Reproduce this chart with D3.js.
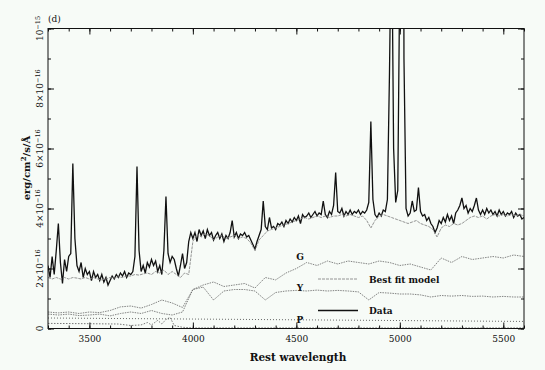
<!DOCTYPE html>
<html lang="en">
<head>
<meta charset="utf-8">
<title>Spectrum fit (d)</title>
<script src="https://d3js.org/d3.v7.min.js"></script>
<style type="text/css">
  body { margin: 0; background: #f7fbf7; }
  svg { display: block; }
  text { font-family: "DejaVu Serif", serif; fill: #111; }
  .tick text { font-size: 9px; }
</style>
</head>
<body>
<script type="text/javascript">
// wavelength grid start (Angstrom) and sampling of each series
var lamStart = 3300;
var dataStep = 10;
// observed spectrum, units of 1e-16 erg/cm2/s/A, 3300..5600 every 10 A
var dataFlux = [
  2.1, 1.7, 2.4, 1.8, 2.6, 3.5, 2.2, 1.5, 2.3, 1.9,      // 3300
  2.4, 2.5, 5.5, 3.0, 2.1, 1.9, 2.2, 1.7, 2.0, 1.8,      // 3400
  1.9, 1.6, 1.9, 1.7, 1.8, 1.6, 1.8, 1.55, 1.7, 1.45,    // 3500
  1.6, 1.75, 1.65, 1.8, 1.7, 1.85, 1.75, 1.9, 1.7, 1.85, // 3600
  1.8, 1.9, 2.4, 5.4, 2.6, 1.9, 2.1, 1.85, 2.2, 2.05,    // 3700
  2.3, 2.1, 2.25, 1.9, 2.1, 1.8, 2.6, 4.4, 2.5, 2.2,     // 3800
  2.4, 2.3, 2.0, 1.75, 2.1, 2.5, 2.0, 2.2, 2.9, 3.2,     // 3900
  3.0, 3.2, 2.9, 3.3, 3.1, 3.25, 3.0, 3.3, 3.1, 3.2,     // 4000
  2.95, 3.1, 3.2, 3.0, 3.15, 2.9, 3.1, 3.0, 3.2, 3.6,    // 4100
  3.05, 3.2, 3.0, 3.15, 3.1, 3.2, 3.05, 3.1, 2.95, 2.8,  // 4200
  2.65, 2.9, 3.1, 3.3, 4.25, 3.4, 3.3, 3.7, 3.35, 3.4,   // 4300
  3.3, 3.5, 3.45, 3.55, 3.4, 3.6, 3.5, 3.65, 3.55, 3.7,  // 4400
  3.6, 3.75, 3.5, 3.8, 3.7, 3.75, 3.85, 3.7, 3.8, 3.9,   // 4500
  3.75, 3.85, 3.8, 4.25, 3.8, 3.7, 3.9, 3.8, 4.1, 5.2,   // 4600
  3.9, 3.85, 4.0, 3.75, 3.9, 3.8, 3.95, 3.8, 3.9, 3.85,  // 4700
  3.95, 3.8, 3.9, 3.85, 3.95, 4.2, 6.9, 4.3, 3.8, 3.7,   // 4800
  3.85, 3.75, 3.95, 3.9, 4.3, 8.5, 14.0, 6.0, 4.2, 4.6,  // 4900
  12.0, 40.0, 9.0, 4.0, 3.75, 3.85, 4.25, 3.9, 3.95, 4.7,// 5000
  3.9, 3.75, 3.8, 3.6, 3.7, 3.5, 3.4, 3.2, 3.35, 3.6,    // 5100
  3.5, 3.7, 3.55, 3.8, 3.6, 3.75, 3.5, 3.85, 3.95, 4.1,  // 5200
  4.35, 4.0, 4.1, 3.85, 4.0, 3.9, 4.1, 4.35, 3.95, 3.8,  // 5300
  3.95, 3.8, 4.0, 3.85, 3.95, 3.8, 3.9, 3.75, 3.95, 3.8, // 5400
  3.9, 3.75, 3.85, 3.8, 3.9, 3.7, 3.85, 3.75, 3.8, 3.65, // 5500
  3.7
];
// best fit model, every 20 A
var modelStep = 20;
var modelFlux = [
  1.7, 1.65, 1.7, 1.65, 1.7, 1.65, 1.7, 1.68, 1.65, 1.7,
  1.65, 1.7, 1.65, 1.62, 1.65, 1.7, 1.68, 1.72, 1.7, 1.75,
  1.75, 1.8, 1.78, 1.82, 1.85, 1.8, 1.9, 1.85, 1.95, 1.8,
  1.9, 1.8, 1.7, 1.85, 1.8, 2.9, 3.15, 3.05, 3.15, 3.1,
  2.95, 3.05, 3.1, 3.0, 3.05, 3.1, 3.0, 3.05, 3.0, 2.85,
  2.6, 2.95, 3.1, 3.25, 3.3, 3.35, 3.4, 3.45, 3.5, 3.55,
  3.6, 3.65, 3.7, 3.65, 3.7, 3.75, 3.7, 3.75, 3.7, 3.75,
  3.75, 3.8, 3.75, 3.8, 3.75, 3.7, 3.75, 3.6, 3.35, 3.6,
  3.75, 3.8, 3.75, 3.7, 3.65, 3.6, 3.55, 3.5, 3.55, 3.6,
  3.5, 3.45, 3.4, 3.3, 3.05, 3.35, 3.45, 3.4, 3.5, 3.45,
  3.5, 3.6, 3.7, 3.75, 3.7, 3.75, 3.65, 3.75, 3.8, 3.75,
  3.8, 3.75, 3.8, 3.75, 3.8, 3.75
];
// stellar components, every 50 A
var compStep = 50;
var gFlux = [
  0.55, 0.52, 0.55, 0.5, 0.55, 0.53, 0.6, 0.72, 0.75, 0.68,
  0.8, 0.95, 0.85, 0.7, 1.3, 1.45, 1.55, 1.4, 1.45, 1.5,
  1.35, 1.7, 1.62, 1.85, 2.0, 2.2, 2.1, 2.25, 2.15, 2.25,
  2.2, 2.15, 2.25, 2.2, 2.1, 2.15, 2.05, 1.95, 2.35, 2.2,
  2.4, 2.3, 2.35, 2.4, 2.35, 2.45, 2.4
];
var yFlux = [
  0.48, 0.45, 0.48, 0.43, 0.45, 0.48, 0.42, 0.5, 0.55, 0.5,
  0.6, 0.5, 0.45, 0.55, 1.3, 1.38, 0.95, 1.25, 1.3, 1.3,
  1.25, 0.95, 1.2, 1.25, 1.27, 1.25, 1.28, 1.25, 1.27, 1.25,
  1.22, 0.95, 1.2, 1.18, 1.15, 1.15, 1.12, 1.05, 1.1, 1.08,
  1.1, 1.07, 1.08, 1.05, 1.07, 1.05, 1.05
];
// power law, every 100 A
var pStep = 100;
var pFlux = [0.35, 0.345, 0.34, 0.335, 0.33, 0.325, 0.32, 0.315, 0.31, 0.305,
  0.3, 0.295, 0.29, 0.285, 0.28, 0.275, 0.27, 0.265, 0.26, 0.255,
  0.25, 0.245, 0.24, 0.235];
// nebular continuum (unlabelled)
var nebLam  = [3300, 3500, 3640, 3700, 3750, 3780, 3800, 3830, 3850, 3870, 3890, 3910, 3950, 4000, 5600];
var nebFlux = [0.17, 0.16, 0.15, 0.1, 0.12, 0.2, 0.12, 0.27, 0.15, 0.3, 0.37, 0.1, 0.04, 0.02, 0.02];

var xTicks = [3500, 4000, 4500, 5000, 5500];
var yTicks = [0, 2, 4, 6, 8, 10];
var yTickBase = ["0", "2\u00d710", "4\u00d710", "6\u00d710", "8\u00d710", "10"];
var yTickExp  = ["", "\u221216", "\u221216", "\u221216", "\u221216", "\u221215"];

var w = 545, h = 370;
var mLeft = 48, mRight = 524, mTop = 28.5, mBottom = 328.5;

var svg = d3.select("body").append("svg")
    .attr("width", w).attr("height", h);

var x = d3.scaleLinear().domain([3300, 5600]).range([mLeft, mRight]);
var y = d3.scaleLinear().domain([0, 10]).range([mBottom, mTop]);

svg.append("defs").append("clipPath").attr("id", "plot")
  .append("rect").attr("x", mLeft).attr("y", mTop)
  .attr("width", mRight - mLeft).attr("height", mBottom - mTop);

function series(vals, step) {
  return vals.map(function(v, i) { return [lamStart + i * step, v]; });
}
var line = d3.line()
    .x(function(d) { return x(d[0]); })
    .y(function(d) { return y(d[1]); });

var g = svg.append("g").attr("clip-path", "url(#plot)");

// components
g.append("path").attr("d", line(nebLam.map(function(l, i) { return [l, nebFlux[i]]; })))
  .attr("fill", "none").attr("stroke", "#555").attr("stroke-width", 0.8)
  .attr("stroke-dasharray", "1.5,1.5");
g.append("path").attr("d", line(series(pFlux, pStep)))
  .attr("fill", "none").attr("stroke", "#444").attr("stroke-width", 0.8)
  .attr("stroke-dasharray", "1,2");
g.append("path").attr("d", line(series(yFlux, compStep)))
  .attr("fill", "none").attr("stroke", "#666").attr("stroke-width", 0.8)
  .attr("stroke-dasharray", "1.5,1");
g.append("path").attr("d", line(series(gFlux, compStep)))
  .attr("fill", "none").attr("stroke", "#666").attr("stroke-width", 0.8)
  .attr("stroke-dasharray", "1.5,1");
// data + model
g.append("path").attr("d", line(series(dataFlux, dataStep)))
  .attr("fill", "none").attr("stroke", "#111").attr("stroke-width", 1.3);
g.append("path").attr("d", line(series(modelFlux, modelStep)))
  .attr("fill", "none").attr("stroke", "#888").attr("stroke-width", 0.9)
  .attr("stroke-dasharray", "3,1");

// ticks, all pointing inward
var minorX = d3.range(3300, 5601, 100);
var minorY = d3.range(0, 10.01, 1);
svg.append("g").attr("transform", "translate(0," + mBottom + ")")
  .call(d3.axisBottom(x).tickValues(minorX).tickSize(-3).tickFormat(""));
svg.append("g").attr("transform", "translate(0," + mBottom + ")")
  .call(d3.axisBottom(x).tickValues(xTicks).tickSize(-6).tickPadding(7).tickFormat(d3.format("d")));
svg.append("g").attr("transform", "translate(0," + mTop + ")")
  .call(d3.axisTop(x).tickValues(minorX).tickSize(-3).tickFormat(""));
svg.append("g").attr("transform", "translate(0," + mTop + ")")
  .call(d3.axisTop(x).tickValues(xTicks).tickSize(-6).tickFormat(""));
svg.append("g").attr("transform", "translate(" + mLeft + ",0)")
  .call(d3.axisLeft(y).tickValues(minorY).tickSize(-3).tickFormat(""));
svg.append("g").attr("transform", "translate(" + mLeft + ",0)")
  .call(d3.axisLeft(y).tickValues(yTicks).tickSize(-6).tickFormat(""));
svg.append("g").attr("transform", "translate(" + mRight + ",0)")
  .call(d3.axisRight(y).tickValues(minorY).tickSize(-3).tickFormat(""));
svg.append("g").attr("transform", "translate(" + mRight + ",0)")
  .call(d3.axisRight(y).tickValues(yTicks).tickSize(-6).tickFormat(""));
svg.selectAll(".domain").remove();
svg.selectAll(".tick line").attr("stroke", "#111");

svg.append("rect").attr("x", mLeft).attr("y", mTop)
  .attr("width", mRight - mLeft).attr("height", mBottom - mTop)
  .attr("fill", "none").attr("stroke", "#111").attr("stroke-width", 1);

// rotated y tick labels with exponents
yTicks.forEach(function(t, i) {
  var lab = svg.append("text")
      .attr("transform", "translate(43," + y(t) + ") rotate(-90)")
      .attr("text-anchor", "middle")
      .style("font-size", "9px")
      .text(yTickBase[i]);
  if (yTickExp[i]) {
    lab.append("tspan").attr("dy", "-3.5").style("font-size", "6.5px").text(yTickExp[i]);
  }
});

// axis titles
svg.append("text")
  .attr("transform", "translate(30,168) rotate(-90)")
  .attr("text-anchor", "middle")
  .style("font-size", "10px")
  .style("font-weight", "bold")
  .html("erg/cm<tspan dy='-4' font-size='7px'>2</tspan><tspan dy='4'>/s/\u00c5</tspan>");
svg.append("text").attr("x", 298).attr("y", 361)
  .attr("text-anchor", "middle")
  .style("font-size", "10.5px").style("font-weight", "bold")
  .text("Rest wavelength");
svg.append("text").attr("x", 48).attr("y", 22)
  .style("font-size", "9px").text("(d)");

// component labels
[["G", 2.3], ["Y", 1.25], ["P", 0.2]].forEach(function(c) {
  svg.append("text").attr("x", 300).attr("y", y(c[1]))
    .attr("text-anchor", "middle")
    .style("font-size", "9px").style("font-weight", "bold").text(c[0]);
});

// legend
var legendY = [1.65, 0.6];
svg.append("line").attr("x1", 318).attr("x2", 358)
  .attr("y1", y(legendY[0])).attr("y2", y(legendY[0]))
  .attr("stroke", "#888").attr("stroke-width", 0.9).attr("stroke-dasharray", "3,1");
svg.append("text").attr("x", 369).attr("y", y(legendY[0]) + 3.5)
  .style("font-size", "9px").style("font-weight", "bold").text("Best fit model");
svg.append("line").attr("x1", 318).attr("x2", 358)
  .attr("y1", y(legendY[1])).attr("y2", y(legendY[1]))
  .attr("stroke", "#111").attr("stroke-width", 1.3);
svg.append("text").attr("x", 369).attr("y", y(legendY[1]) + 3.5)
  .style("font-size", "9px").style("font-weight", "bold").text("Data");
</script>
</body>
</html>
